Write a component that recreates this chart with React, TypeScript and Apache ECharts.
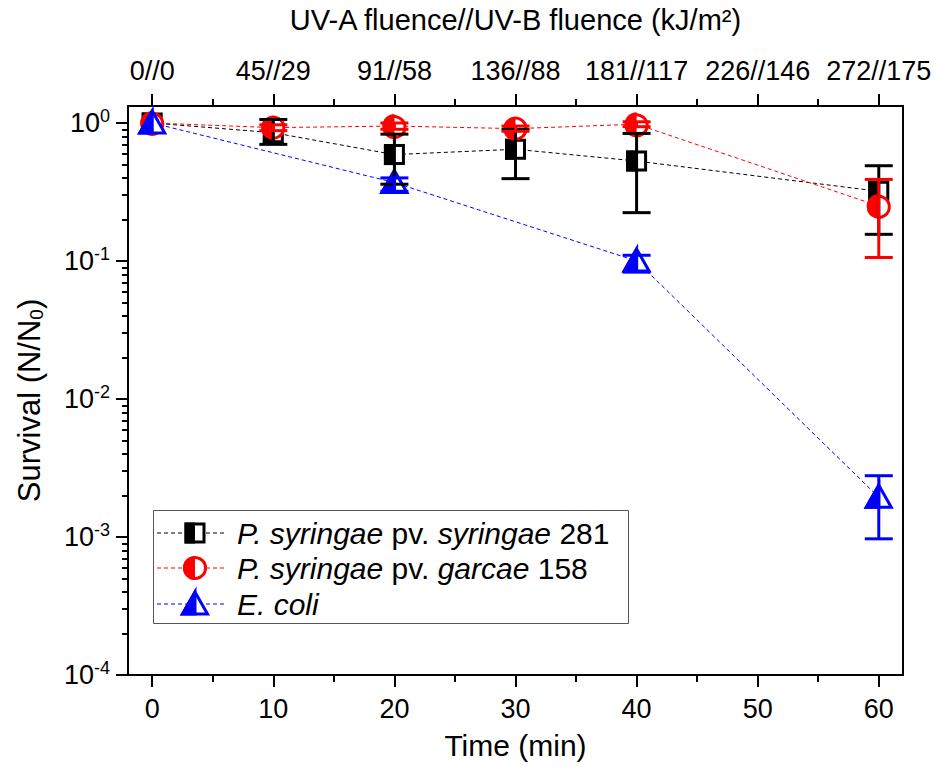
import React, { useEffect, useRef } from 'react';
import * as echarts from 'echarts';

// ---- data (survival N/N0) ----
const times = [0, 10, 20, 30, 40, 60];
const pssValues = [1.0, 0.85, 0.59, 0.645, 0.53, 0.32];
const pssUpper = [1.0, 1.06, 0.83, 0.9, 0.84, 0.49];
const pssLower = [1.0, 0.7, 0.36, 0.395, 0.224, 0.156];

const psgValues = [1.0, 0.925, 0.95, 0.91, 0.98, 0.25];
const psgUpper = [1.0, 0.97, 1.0, 0.95, 1.02, 0.39];
const psgLower = [1.0, 0.88, 0.9, 0.87, 0.94, 0.106];

const ecoliTimes = [0, 20, 40, 60];
const ecoliValues = [1.0, 0.37, 0.1, 0.00194];
const ecoliUpper = [1.0, 0.4, 0.11, 0.00278];
const ecoliLower = [1.0, 0.32, 0.083, 0.00097];

const bottomTicks = [0, 10, 20, 30, 40, 50, 60];
const minorXTicks = [5, 15, 25, 35, 45, 55];
const topTickLabels = ['0//0', '45//29', '91//58', '136//88', '181//117', '226//146', '272//175'];
const yTickExponents = [-4, -3, -2, -1, 0];
const minorMultipliers = [2, 3, 4, 5, 6, 7, 8, 9];

const legendNames = [
  '{i|P. syringae} {n|pv.} {i|syringae} {n|281}',
  '{i|P. syringae} {n|pv.} {i|garcae} {n|158}',
  '{i|E. coli}',
];

const BLACK = '#000000';
const RED = '#ff0000';
const BLUE = '#0000ff';
const FONT = '"Liberation Sans", Arial, sans-serif';

const L = (v: number) => Math.log10(v);

function squareMarker(cx: number, cy: number, color: string) {
  const s = 18;
  return [
    { type: 'rect', shape: { x: cx - s / 2, y: cy - s / 2, width: s, height: s }, style: { fill: '#fff', stroke: color, lineWidth: 3 } },
    { type: 'rect', shape: { x: cx - s / 2 - 1.5, y: cy - s / 2 - 1.5, width: s / 2 + 1.5, height: s + 3 }, style: { fill: color } },
  ];
}
function circleMarker(cx: number, cy: number, color: string) {
  const r = 10.5;
  return [
    { type: 'circle', shape: { cx, cy, r }, style: { fill: '#fff', stroke: color, lineWidth: 3 } },
    { type: 'sector', shape: { cx, cy, r0: 0, r: r + 1.5, startAngle: Math.PI / 2, endAngle: (Math.PI * 3) / 2, clockwise: true }, style: { fill: color } },
  ];
}
function triangleMarker(cx: number, cy: number, color: string) {
  const top = cy - 12, bot = cy + 10, hw = 12.5;
  return [
    { type: 'polygon', shape: { points: [[cx, top], [cx - hw, bot], [cx + hw, bot]] }, style: { fill: '#fff', stroke: color, lineWidth: 3, lineJoin: 'miter' } },
    { type: 'polygon', shape: { points: [[cx, top], [cx - hw, bot], [cx, bot]] }, style: { fill: color, stroke: color, lineWidth: 3, lineJoin: 'miter' } },
  ];
}
const markerFns: Record<string, (cx: number, cy: number, c: string) => any[]> = {
  square: squareMarker,
  circle: circleMarker,
  triangle: triangleMarker,
};

function markerSeries(xs: number[], vals: number[], kind: string, color: string, z: number) {
  return {
    type: 'custom',
    z,
    silent: true,
    data: xs.map((t, i) => [t, L(vals[i])]),
    encode: { x: 0, y: 1 },
    renderItem: (params: any, api: any) => {
      const p = api.coord([api.value(0), api.value(1)]);
      return { type: 'group', children: markerFns[kind](p[0], p[1], color) };
    },
  };
}

function errorSeries(xs: number[], lo: number[], hi: number[], color: string, z: number) {
  const data: number[][] = [];
  xs.forEach((t, i) => {
    if (hi[i] > lo[i]) data.push([t, L(lo[i]), L(hi[i])]);
  });
  return {
    type: 'custom',
    z,
    silent: true,
    data,
    encode: { x: 0, y: [1, 2] },
    renderItem: (params: any, api: any) => {
      const a = api.coord([api.value(0), api.value(1)]);
      const b = api.coord([api.value(0), api.value(2)]);
      const w = 14;
      const st = { stroke: color, lineWidth: 3 };
      return {
        type: 'group',
        children: [
          { type: 'line', shape: { x1: a[0], y1: a[1], x2: b[0], y2: b[1] }, style: st },
          { type: 'line', shape: { x1: a[0] - w, y1: a[1], x2: a[0] + w, y2: a[1] }, style: st },
          { type: 'line', shape: { x1: b[0] - w, y1: b[1], x2: b[0] + w, y2: b[1] }, style: st },
        ],
      };
    },
  };
}

function lineSeries(xs: number[], vals: number[], color: string) {
  return {
    type: 'line',
    z: 1,
    silent: true,
    showSymbol: false,
    symbol: 'none',
    data: xs.map((t, i) => [t, L(vals[i])]),
    lineStyle: { color, width: 1, type: [4, 3] },
  };
}

export default function App() {
  const ref = useRef<HTMLDivElement>(null);
  useEffect(() => {
    if (!ref.current) return;
    const chart = echarts.init(ref.current, undefined, { renderer: 'svg' });

    const yMin = -4;
    const yMax = 0.123;
    const minorY: number[] = [];
    yTickExponents.slice(0, 4).forEach((e) => minorMultipliers.forEach((m) => minorY.push(L(m) + e)));

    const tickFont = { fontFamily: FONT, fontSize: 27, color: '#000' };
    const nameFont = { fontFamily: FONT, fontSize: 30, color: '#000' };
    const axisLineStyle = { color: '#000', width: 2 };

    const xBase = { type: 'value', min: -2, max: 62, splitLine: { show: false }, gridIndex: 0 };
    const yBase = { type: 'value', min: yMin, max: yMax, splitLine: { show: false }, gridIndex: 0 };

    const legendRowsY = [533, 568, 604];
    const legendColors = [BLACK, RED, BLUE];
    const legendKinds = ['square', 'circle', 'triangle'];
    const graphic: any[] = [
      { type: 'rect', z: 100, shape: { x: 153.5, y: 510.5, width: 475, height: 113 }, style: { fill: '#fff', stroke: '#555', lineWidth: 1 } },
    ];
    legendRowsY.forEach((ly, i) => {
      graphic.push({ type: 'line', z: 101, shape: { x1: 157, y1: ly, x2: 225, y2: ly }, style: { stroke: legendColors[i], lineWidth: 1, lineDash: [4, 3] } });
      markerFns[legendKinds[i]](195, ly, legendColors[i]).forEach((el, k) => {
        graphic.push({ ...el, z: 102 + k });
      });
      graphic.push({
        type: 'text',
        z: 105,
        style: {
          x: 237,
          y: ly,
          text: legendNames[i],
          verticalAlign: 'middle',
          align: 'left',
          fontFamily: FONT,
          fontSize: 30,
          fill: '#000',
          rich: {
            i: { fontStyle: 'italic', fontFamily: FONT, fontSize: 30, fill: '#000' },
            n: { fontFamily: FONT, fontSize: 30, fill: '#000' },
          },
        },
      });
    });

    chart.setOption({
      animation: false,
      backgroundColor: '#fff',
      grid: { left: 128, right: 35, top: 105, bottom: 92, containLabel: false },
      xAxis: [
        {
          ...xBase,
          position: 'bottom',
          axisLine: { show: true, onZero: false, lineStyle: axisLineStyle },
          axisTick: { show: true, inside: false, length: 12, customValues: bottomTicks, lineStyle: axisLineStyle },
          axisLabel: { show: true, customValues: bottomTicks, margin: 20, ...tickFont },
          name: 'Time (min)',
          nameLocation: 'middle',
          nameGap: 55,
          nameTextStyle: nameFont,
        },
        {
          ...xBase,
          position: 'bottom',
          axisLine: { show: false, onZero: false },
          axisTick: { show: true, inside: false, length: 7, customValues: minorXTicks, lineStyle: axisLineStyle },
          axisLabel: { show: false },
        },
        {
          ...xBase,
          position: 'top',
          axisLine: { show: true, onZero: false, lineStyle: axisLineStyle },
          axisTick: { show: true, inside: false, length: 12, customValues: bottomTicks, lineStyle: axisLineStyle },
          axisLabel: {
            show: true,
            customValues: bottomTicks,
            margin: 22,
            formatter: (v: number) => topTickLabels[Math.round(v / 10)] ?? '',
            ...tickFont,
          },
          name: 'UV-A fluence//UV-B fluence (kJ/m²)',
          nameLocation: 'middle',
          nameGap: 72,
          nameTextStyle: { ...nameFont, fontSize: 29 },
        },
        {
          ...xBase,
          position: 'top',
          axisLine: { show: false, onZero: false },
          axisTick: { show: true, inside: false, length: 7, customValues: minorXTicks, lineStyle: axisLineStyle },
          axisLabel: { show: false },
        },
      ],
      yAxis: [
        {
          ...yBase,
          position: 'left',
          axisLine: { show: true, onZero: false, lineStyle: axisLineStyle },
          axisTick: { show: true, inside: false, length: 12, customValues: yTickExponents, lineStyle: axisLineStyle },
          axisLabel: {
            show: true,
            customValues: yTickExponents,
            margin: 18,
            formatter: (v: number) => `{b|10}{s|${Math.round(v)}}`,
            rich: {
              b: { fontFamily: FONT, fontSize: 27, color: '#000' },
              s: { fontFamily: FONT, fontSize: 18, color: '#000', padding: [0, 0, 14, 0] },
            },
          },
          name: '{a|Survival (N/N}{s|0}{a|)}',
          nameLocation: 'middle',
          nameGap: 82,
          nameRotate: 90,
          nameTextStyle: {
            padding: [0, 20, 0, 0],
            rich: {
              a: { fontFamily: FONT, fontSize: 31, color: '#000' },
              s: { fontFamily: FONT, fontSize: 19, color: '#000', padding: [15, 0, 0, 0] },
            },
          },
        },
        {
          ...yBase,
          position: 'left',
          axisLine: { show: false, onZero: false },
          axisTick: { show: true, inside: false, length: 6, customValues: minorY, lineStyle: axisLineStyle },
          axisLabel: { show: false },
        },
        {
          ...yBase,
          position: 'right',
          axisLine: { show: true, onZero: false, lineStyle: axisLineStyle },
          axisTick: { show: false },
          axisLabel: { show: false },
        },
      ],
      series: [
        lineSeries(times, pssValues, BLACK),
        lineSeries(times, psgValues, RED),
        lineSeries(ecoliTimes, ecoliValues, BLUE),
        markerSeries(times, pssValues, 'square', BLACK, 3),
        markerSeries(times, psgValues, 'circle', RED, 4),
        markerSeries(ecoliTimes, ecoliValues, 'triangle', BLUE, 5),
        errorSeries(times, pssLower, pssUpper, BLACK, 6),
        errorSeries(times, psgLower, psgUpper, RED, 7),
        errorSeries(ecoliTimes, ecoliLower, ecoliUpper, BLUE, 8),
      ],
      graphic,
    });

    return () => chart.dispose();
  }, []);

  return <div ref={ref} style={{ position: 'fixed', left: 0, top: 0, width: 938, height: 767 }} />;
}
